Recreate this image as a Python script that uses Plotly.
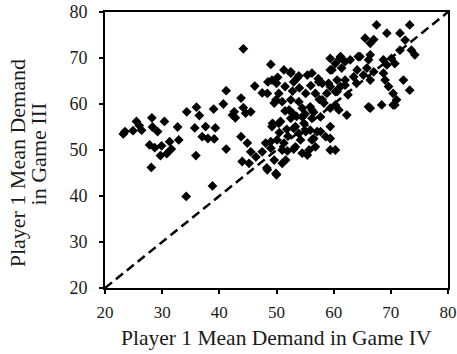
import plotly.graph_objects as go

# Player 1 mean demand: Game IV (x) vs Game III (y), one point per subject
game_iv = [
    23.2, 23.5, 24.9, 25.5, 26.4, 26.0, 28.3, 29.2, 28.2, 27.8, 28.7, 29.9, 29.7, 28.1,
    30.4, 31.3, 31.6, 30.8, 32.7, 32.9, 34.3, 36.0, 36.5, 35.7, 37.6, 39.3, 37.0, 39.1,
    38.0, 35.9, 39.0, 40.7, 41.2, 43.8, 42.3, 42.8, 44.6, 44.2, 45.5, 44.2, 41.2, 43.8,
    44.9, 45.5, 44.0, 45.2, 46.4, 47.5, 48.1, 49.0, 50.1, 51.3, 49.2, 48.3, 49.0, 48.4,
    50.0, 49.6, 51.0, 34.2, 38.8, 46.2, 47.5, 48.4, 50.4, 49.0, 49.2, 50.0, 48.5, 50.2,
    52.5, 53.9, 55.4, 56.2, 59.4, 58.0, 59.4, 55.1, 56.8, 49.6, 51.0, 52.5, 53.9, 54.5,
    55.9, 58.3, 59.4, 49.3, 50.7, 52.5, 53.3, 54.8, 56.2, 57.7, 55.9, 57.7, 59.4, 53.9,
    54.2, 56.5, 59.4, 51.9, 53.0, 55.7, 59.4, 54.5, 56.8, 58.6, 60.3, 55.4, 51.5, 52.8,
    53.5, 51.8, 50.5, 52.0, 54.0, 52.8, 51.5, 53.0, 56.0, 57.3, 55.0, 56.5, 57.5, 42.6,
    67.5, 69.3, 65.5, 66.4, 67.0, 71.6, 73.3, 72.5, 73.6, 74.2, 71.6, 61.2, 62.9, 64.6,
    66.4, 60.3, 61.4, 64.1, 65.8, 67.0, 63.5, 65.2, 66.4, 68.7, 69.3, 70.1, 70.7, 68.7,
    69.0, 69.6, 72.2, 70.4, 73.3, 71.0, 68.4, 66.4, 70.4, 61.2, 62.0, 60.3, 60.9, 62.3,
    66.1, 70.7, 62.5, 64.0, 51.3, 52.5, 53.6, 59.4, 61.1, 62.0, 64.3, 66.1, 59.7, 57.4,
    59.1, 60.6, 62.0, 58.8, 60.6, 58.0, 60.3, 56.2, 54.5, 52.2, 49.9, 50.4, 53.0, 55.1,
    57.1, 56.2, 53.3, 51.0, 51.6, 49.9,
]
game_iii = [
    53.5, 54.0, 54.2, 56.2, 54.3, 55.3, 55.0, 54.0, 57.0, 51.1, 50.5, 50.9, 48.8, 46.2,
    56.2, 51.8, 50.2, 49.2, 55.0, 52.2, 58.3, 59.3, 57.5, 54.8, 55.1, 54.8, 52.9, 52.4,
    52.5, 48.8, 58.9, 60.0, 62.9, 61.3, 57.6, 57.0, 58.0, 59.2, 58.3, 72.0, 50.2, 52.9,
    51.5, 49.6, 47.5, 47.1, 48.5, 49.6, 51.5, 51.8, 52.2, 51.5, 55.1, 46.1, 50.4, 45.7,
    44.6, 47.8, 47.1, 39.9, 42.2, 63.9, 62.4, 62.3, 62.3, 68.6, 65.2, 64.5, 64.8, 65.8,
    66.7, 66.1, 66.3, 66.7, 67.4, 64.5, 63.8, 62.3, 62.3, 60.2, 60.5, 60.9, 60.5, 59.1,
    59.4, 60.2, 59.1, 55.8, 56.2, 56.9, 55.1, 55.8, 56.9, 57.2, 54.3, 54.0, 55.1, 53.6,
    52.2, 52.5, 52.5, 49.8, 50.2, 50.0, 50.0, 49.3, 50.7, 52.9, 50.0, 48.9, 58.5, 58.0,
    57.3, 54.5, 53.8, 53.0, 63.5, 62.8, 63.8, 64.8, 64.0, 65.5, 57.8, 58.2, 61.0, 58.3,
    77.2, 75.4, 74.3, 73.2, 74.0, 75.4, 77.2, 73.9, 71.7, 70.7, 71.7, 70.3, 69.6, 70.3,
    70.7, 68.8, 67.8, 67.4, 67.8, 67.0, 65.9, 66.3, 65.2, 69.6, 68.5, 69.9, 68.8, 66.7,
    65.2, 63.8, 65.2, 62.3, 63.0, 60.9, 59.8, 59.1, 59.8, 63.8, 65.2, 62.7, 58.7, 57.6,
    59.4, 59.8, 62.0, 64.5, 67.4, 67.0, 65.6, 69.9, 69.9, 69.2, 70.3, 69.6, 67.4, 64.8,
    64.5, 65.2, 64.1, 62.3, 62.7, 60.9, 59.8, 58.7, 57.2, 58.7, 60.9, 55.8, 54.7, 54.0,
    54.0, 52.2, 50.7, 50.0, 47.8, 44.9,
]

axis_range = [20, 80]
tick_vals = [20, 30, 40, 50, 60, 70, 80]
x_title = "Player 1 Mean Demand in Game IV"
y_title_lines = ["Player 1 Mean Demand", "in Game III"]

serif = "Liberation Serif, Times New Roman, serif"
ink = "#1a1a1a"

fig = go.Figure()

# 45-degree reference line (equal demand in both games)
fig.add_trace(go.Scatter(
    x=axis_range, y=axis_range, mode="lines",
    line=dict(color="black", width=2.5, dash="9px,5px"),
    hoverinfo="skip", showlegend=False,
))

fig.add_trace(go.Scatter(
    x=game_iv, y=game_iii, mode="markers",
    marker=dict(symbol="diamond", size=7.5, color="black", line=dict(width=0)),
    showlegend=False,
))

axis_common = dict(
    range=axis_range, tickvals=tick_vals, automargin=False,
    ticklabeloverflow="allow",
    showgrid=False, zeroline=False,
    showline=True, linecolor="black", linewidth=2, mirror=True,
    ticks="outside", ticklen=4, tickwidth=1.5, tickcolor="black",
)

fig.update_layout(
    width=457, height=354,
    margin=dict(l=105, r=9, t=12, b=66),
    paper_bgcolor="white", plot_bgcolor="white",
    xaxis=dict(**axis_common, ticklabelstandoff=4,
               tickfont=dict(family=serif, size=17, color=ink)),
    yaxis=dict(**axis_common, ticklabelstandoff=8,
               tickfont=dict(family=serif, size=18, color=ink)),
)

# Axis titles as annotations so the two-line y title can be set tightly
fig.add_annotation(
    text=x_title, xref="paper", yref="paper", x=0.5, y=-0.181,
    xanchor="center", yanchor="middle", showarrow=False,
    font=dict(family=serif, size=21.5, color=ink),
)
fig.add_annotation(
    text=y_title_lines[0], xref="paper", yref="paper", x=-0.255, y=0.45,
    xanchor="center", yanchor="middle", textangle=-90, showarrow=False,
    font=dict(family=serif, size=22, color=ink),
)
fig.add_annotation(
    text=y_title_lines[1], xref="paper", yref="paper", x=-0.193, y=0.487,
    xanchor="center", yanchor="middle", textangle=-90, showarrow=False,
    font=dict(family=serif, size=22, color=ink),
)

fig.write_html("out.html")
